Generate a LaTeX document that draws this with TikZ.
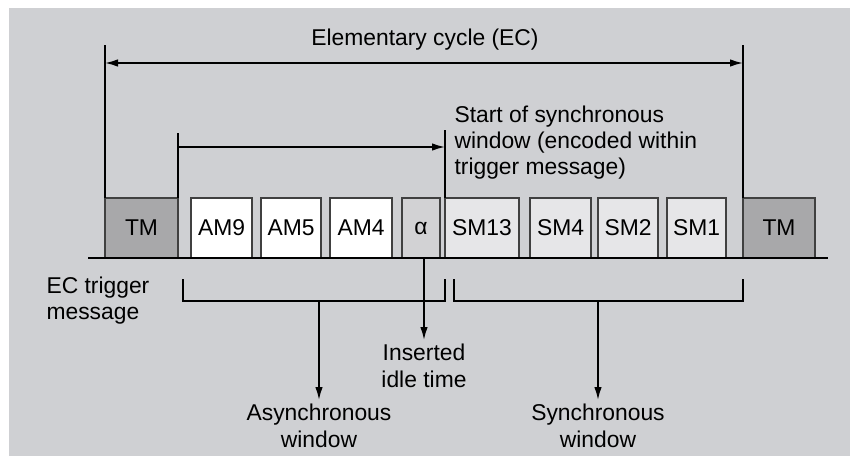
\documentclass[tikz,border=0pt]{standalone}
\usepackage{fontspec}
\setmainfont{Liberation Sans}
\usetikzlibrary{arrows.meta,positioning}

\definecolor{panelside}{RGB}{207,208,211}
\definecolor{panelmid}{RGB}{242,242,243}
\definecolor{tmgray}{RGB}{168,168,170}
\definecolor{idlegray}{RGB}{210,210,212}
\definecolor{smgray}{RGB}{230,230,232}

\begin{document}
\begin{tikzpicture}
	[x=0.2mm,y=-0.2mm,>={Latex[length=2.6mm,width=1.5mm]},line width=0.9pt,
	 font=\fontsize{13}{15}\selectfont,
	 msg/.style={draw=black!75,minimum height=12mm,inner sep=0pt,outer sep=0pt},
	 tm/.style={msg,fill=tmgray},
	 am/.style={msg,fill=white},
	 sm/.style={msg,fill=smgray},
	 idle/.style={msg,fill=idlegray},
	 label/.style={align=center,inner sep=1pt}]
\useasboundingbox (0,0) rectangle (850,455);
\fill[left color=panelside,middle color=panelmid,right color=panelside] (9,8) rectangle (850,455);

% messages of one cycle
\node[tm,minimum width=14.6mm,anchor=south west](tm1) at (105,258){TM};
\node[am,minimum width=12.2mm](am9)[right = 2.6mm of tm1]{AM9};
\node[am,minimum width=12mm](am5)[right = 1.8mm of am9]{AM5};
\node[am,minimum width=12.4mm](am4)[right = 1.8mm of am5]{AM4};
\node[idle,minimum width=7.6mm](alpha)[right = 2mm of am4]{α};
\node[sm,minimum width=14.8mm](sm13)[right = 1mm of alpha]{SM13};
\node[sm,minimum width=12.2mm](sm4)[right = 2.2mm of sm13]{SM4};
\node[sm,minimum width=12mm](sm2)[right = 1.4mm of sm4]{SM2};
\node[sm,minimum width=11.8mm](sm1)[right = 1.8mm of sm2]{SM1};
\node[tm,minimum width=14.4mm](tm2)[right = 3.4mm of sm1]{TM};

\coordinate (busl) at (88,258);
\coordinate (busr) at (828,258);
\draw (busl) -- (busr);

% elementary cycle
\coordinate (ecl) at (105,45);
\coordinate (ecr) at (tm2.north west |- ecl);
\draw (ecl) -- (tm1.north west);
\draw (ecr) -- (tm2.north west);
\draw[<->] ([yshift=-3.6mm]ecl) -- ([yshift=-3.6mm]ecr);
\node[label](ec) at (425,40){Elementary cycle (EC)};

% start of synchronous window
\coordinate (asl) at (tm1.north east |- 0,133);
\coordinate (sst) at (sm13.north west |- 0,130);
\draw (asl) -- (tm1.north east);
\draw (sst) -- (sm13.north west);
\draw[->] ([yshift=-2.8mm]asl) -- ([yshift=-2.8mm]asl -| sst);
\node[label,align=left,anchor=north west](start) at (452,103)
	{Start of synchronous\\window (encoded within\\trigger message)};

% windows below the bus
\node[label,align=left,anchor=north west](trig) at (44,274){EC trigger\\message};
\coordinate (awl) at (183,279);
\coordinate (awr) at (445,279);
\coordinate (swl) at (454,279);
\coordinate (swr) at (ecr |- awl);
\draw (awl) -- ++(0,22) -| (awr);
\draw (swl) -- ++(0,22) -| (swr);

\coordinate (awd) at (319,301);
\coordinate (swd) at (598,301);
\coordinate (idl) at (424,340);
\draw[->] (awd) -- ++(0,99) node[label,below=1pt]{Asynchronous\\window};
\draw[->] (swd) -- ++(0,99) node[label,below=1pt]{Synchronous\\window};
\draw[->] (idl |- alpha.south) -- (idl) node[label,below=1pt]{Inserted\\idle time};

\end{tikzpicture}
\end{document}
